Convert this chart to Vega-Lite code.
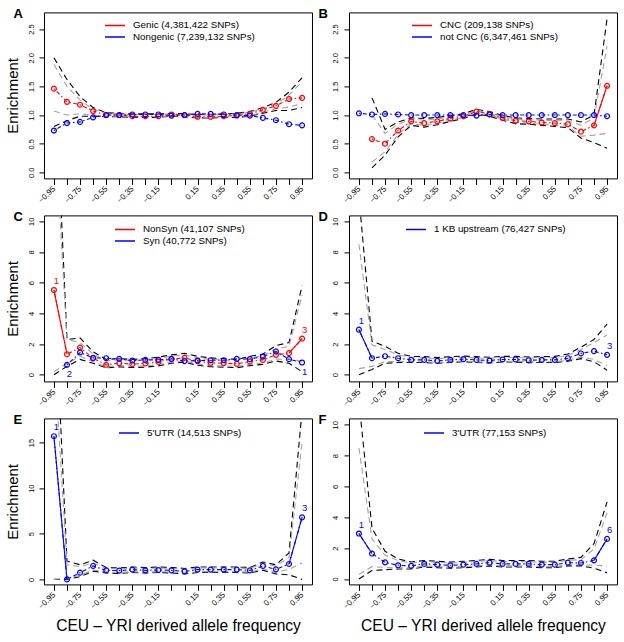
{
"$schema":"https://vega.github.io/schema/vega-lite/v6.json",
"background":"white",
"padding":{"left":5,"top":6.4,"right":3,"bottom":3},
"config":{
 "font":"Liberation Sans",
 "view":{"stroke":"black","strokeWidth":1},
 "axis":{"grid":false,"domain":false,"ticks":true,"tickColor":"black","tickWidth":1,"labelColor":"black","titleColor":"black","labelFont":"Liberation Sans","titleFont":"Liberation Sans","titleFontWeight":"normal","labelOverlap":false,"labelFlush":false,"labelBound":false,"labelFontSize":7.5},
 "axisX":{"tickSize":6,"labelPadding":3,"titleFontSize":15.6,"labelFontSize":8},
 "axisY":{"tickSize":5,"labelPadding":4,"titleFontSize":15},
 "legend":{"orient":"none","direction":"vertical","symbolType":"stroke","symbolSize":400,"symbolStrokeWidth":1.5,"labelFont":"Liberation Sans","labelFontSize":9.8,"labelColor":"black","labelOffset":7,"padding":0,"clipHeight":10,"rowPadding":1.7,"labelLimit":300},
 "title":{"font":"Liberation Sans","fontSize":13,"fontWeight":"bold","anchor":"start","frame":"group","offset":0,"dx":-30.5,"dy":12.4,"baseline":"alphabetic","color":"black"}
},
"datasets":{
"pts":[
{"p":"A","s":"Genic (4,381,422 SNPs)","x":-0.95,"y":1.46},{"p":"A","s":"Genic (4,381,422 SNPs)","x":-0.85,"y":1.23},{"p":"A","s":"Genic (4,381,422 SNPs)","x":-0.75,"y":1.18},{"p":"A","s":"Genic (4,381,422 SNPs)","x":-0.65,"y":1.07},{"p":"A","s":"Genic (4,381,422 SNPs)","x":-0.55,"y":1.0},{"p":"A","s":"Genic (4,381,422 SNPs)","x":-0.45,"y":1.0},{"p":"A","s":"Genic (4,381,422 SNPs)","x":-0.35,"y":0.98},{"p":"A","s":"Genic (4,381,422 SNPs)","x":-0.25,"y":0.98},{"p":"A","s":"Genic (4,381,422 SNPs)","x":-0.15,"y":0.98},{"p":"A","s":"Genic (4,381,422 SNPs)","x":-0.05,"y":1.01},{"p":"A","s":"Genic (4,381,422 SNPs)","x":0.05,"y":1.0},{"p":"A","s":"Genic (4,381,422 SNPs)","x":0.15,"y":0.97},{"p":"A","s":"Genic (4,381,422 SNPs)","x":0.25,"y":0.97},{"p":"A","s":"Genic (4,381,422 SNPs)","x":0.35,"y":0.98},{"p":"A","s":"Genic (4,381,422 SNPs)","x":0.45,"y":0.99},{"p":"A","s":"Genic (4,381,422 SNPs)","x":0.55,"y":1.02},{"p":"A","s":"Genic (4,381,422 SNPs)","x":0.65,"y":1.09},{"p":"A","s":"Genic (4,381,422 SNPs)","x":0.75,"y":1.16},{"p":"A","s":"Genic (4,381,422 SNPs)","x":0.85,"y":1.28},{"p":"A","s":"Genic (4,381,422 SNPs)","x":0.95,"y":1.3},
{"p":"A","s":"Nongenic (7,239,132 SNPs)","x":-0.95,"y":0.73},{"p":"A","s":"Nongenic (7,239,132 SNPs)","x":-0.85,"y":0.86},{"p":"A","s":"Nongenic (7,239,132 SNPs)","x":-0.75,"y":0.88},{"p":"A","s":"Nongenic (7,239,132 SNPs)","x":-0.65,"y":0.96},{"p":"A","s":"Nongenic (7,239,132 SNPs)","x":-0.55,"y":1.0},{"p":"A","s":"Nongenic (7,239,132 SNPs)","x":-0.45,"y":1.0},{"p":"A","s":"Nongenic (7,239,132 SNPs)","x":-0.35,"y":1.01},{"p":"A","s":"Nongenic (7,239,132 SNPs)","x":-0.25,"y":1.01},{"p":"A","s":"Nongenic (7,239,132 SNPs)","x":-0.15,"y":1.01},{"p":"A","s":"Nongenic (7,239,132 SNPs)","x":-0.05,"y":0.99},{"p":"A","s":"Nongenic (7,239,132 SNPs)","x":0.05,"y":1.0},{"p":"A","s":"Nongenic (7,239,132 SNPs)","x":0.15,"y":1.02},{"p":"A","s":"Nongenic (7,239,132 SNPs)","x":0.25,"y":1.02},{"p":"A","s":"Nongenic (7,239,132 SNPs)","x":0.35,"y":1.01},{"p":"A","s":"Nongenic (7,239,132 SNPs)","x":0.45,"y":1.0},{"p":"A","s":"Nongenic (7,239,132 SNPs)","x":0.55,"y":0.99},{"p":"A","s":"Nongenic (7,239,132 SNPs)","x":0.65,"y":0.95},{"p":"A","s":"Nongenic (7,239,132 SNPs)","x":0.75,"y":0.91},{"p":"A","s":"Nongenic (7,239,132 SNPs)","x":0.85,"y":0.84},{"p":"A","s":"Nongenic (7,239,132 SNPs)","x":0.95,"y":0.82},
{"p":"B","s":"CNC (209,138 SNPs)","x":-0.85,"y":0.58},{"p":"B","s":"CNC (209,138 SNPs)","x":-0.75,"y":0.5},{"p":"B","s":"CNC (209,138 SNPs)","x":-0.65,"y":0.73},{"p":"B","s":"CNC (209,138 SNPs)","x":-0.55,"y":0.89},{"p":"B","s":"CNC (209,138 SNPs)","x":-0.45,"y":0.86},{"p":"B","s":"CNC (209,138 SNPs)","x":-0.35,"y":0.89},{"p":"B","s":"CNC (209,138 SNPs)","x":-0.25,"y":0.94},{"p":"B","s":"CNC (209,138 SNPs)","x":-0.15,"y":0.98},{"p":"B","s":"CNC (209,138 SNPs)","x":-0.05,"y":1.06},{"p":"B","s":"CNC (209,138 SNPs)","x":0.05,"y":1.02},{"p":"B","s":"CNC (209,138 SNPs)","x":0.15,"y":0.95},{"p":"B","s":"CNC (209,138 SNPs)","x":0.25,"y":0.9},{"p":"B","s":"CNC (209,138 SNPs)","x":0.35,"y":0.89},{"p":"B","s":"CNC (209,138 SNPs)","x":0.45,"y":0.87},{"p":"B","s":"CNC (209,138 SNPs)","x":0.55,"y":0.86},{"p":"B","s":"CNC (209,138 SNPs)","x":0.65,"y":0.84},{"p":"B","s":"CNC (209,138 SNPs)","x":0.75,"y":0.71},{"p":"B","s":"CNC (209,138 SNPs)","x":0.85,"y":0.82},{"p":"B","s":"CNC (209,138 SNPs)","x":0.95,"y":1.51},
{"p":"B","s":"not CNC (6,347,461 SNPs)","x":-0.95,"y":1.03},{"p":"B","s":"not CNC (6,347,461 SNPs)","x":-0.85,"y":1.01},{"p":"B","s":"not CNC (6,347,461 SNPs)","x":-0.75,"y":1.02},{"p":"B","s":"not CNC (6,347,461 SNPs)","x":-0.65,"y":1.01},{"p":"B","s":"not CNC (6,347,461 SNPs)","x":-0.55,"y":1.0},{"p":"B","s":"not CNC (6,347,461 SNPs)","x":-0.45,"y":1.0},{"p":"B","s":"not CNC (6,347,461 SNPs)","x":-0.35,"y":1.0},{"p":"B","s":"not CNC (6,347,461 SNPs)","x":-0.25,"y":1.0},{"p":"B","s":"not CNC (6,347,461 SNPs)","x":-0.15,"y":1.0},{"p":"B","s":"not CNC (6,347,461 SNPs)","x":-0.05,"y":0.99},{"p":"B","s":"not CNC (6,347,461 SNPs)","x":0.05,"y":1.01},{"p":"B","s":"not CNC (6,347,461 SNPs)","x":0.15,"y":1.0},{"p":"B","s":"not CNC (6,347,461 SNPs)","x":0.25,"y":1.0},{"p":"B","s":"not CNC (6,347,461 SNPs)","x":0.35,"y":1.0},{"p":"B","s":"not CNC (6,347,461 SNPs)","x":0.45,"y":1.0},{"p":"B","s":"not CNC (6,347,461 SNPs)","x":0.55,"y":1.0},{"p":"B","s":"not CNC (6,347,461 SNPs)","x":0.65,"y":1.0},{"p":"B","s":"not CNC (6,347,461 SNPs)","x":0.75,"y":1.0},{"p":"B","s":"not CNC (6,347,461 SNPs)","x":0.85,"y":1.0},{"p":"B","s":"not CNC (6,347,461 SNPs)","x":0.95,"y":0.98},
{"p":"C","s":"NonSyn (41,107 SNPs)","x":-0.95,"y":5.52},{"p":"C","s":"NonSyn (41,107 SNPs)","x":-0.85,"y":1.34},{"p":"C","s":"NonSyn (41,107 SNPs)","x":-0.75,"y":1.77},{"p":"C","s":"NonSyn (41,107 SNPs)","x":-0.65,"y":1.08},{"p":"C","s":"NonSyn (41,107 SNPs)","x":-0.55,"y":0.65},{"p":"C","s":"NonSyn (41,107 SNPs)","x":-0.45,"y":0.76},{"p":"C","s":"NonSyn (41,107 SNPs)","x":-0.35,"y":0.69},{"p":"C","s":"NonSyn (41,107 SNPs)","x":-0.25,"y":0.74},{"p":"C","s":"NonSyn (41,107 SNPs)","x":-0.15,"y":0.84},{"p":"C","s":"NonSyn (41,107 SNPs)","x":-0.05,"y":1.02},{"p":"C","s":"NonSyn (41,107 SNPs)","x":0.05,"y":1.1},{"p":"C","s":"NonSyn (41,107 SNPs)","x":0.15,"y":0.89},{"p":"C","s":"NonSyn (41,107 SNPs)","x":0.25,"y":0.78},{"p":"C","s":"NonSyn (41,107 SNPs)","x":0.35,"y":0.76},{"p":"C","s":"NonSyn (41,107 SNPs)","x":0.45,"y":0.71},{"p":"C","s":"NonSyn (41,107 SNPs)","x":0.55,"y":0.87},{"p":"C","s":"NonSyn (41,107 SNPs)","x":0.65,"y":0.97},{"p":"C","s":"NonSyn (41,107 SNPs)","x":0.75,"y":1.3},{"p":"C","s":"NonSyn (41,107 SNPs)","x":0.85,"y":1.41},{"p":"C","s":"NonSyn (41,107 SNPs)","x":0.95,"y":2.36},
{"p":"C","s":"Syn (40,772 SNPs)","x":-0.85,"y":0.65},{"p":"C","s":"Syn (40,772 SNPs)","x":-0.75,"y":1.45},{"p":"C","s":"Syn (40,772 SNPs)","x":-0.65,"y":1.1},{"p":"C","s":"Syn (40,772 SNPs)","x":-0.55,"y":1.08},{"p":"C","s":"Syn (40,772 SNPs)","x":-0.45,"y":1.04},{"p":"C","s":"Syn (40,772 SNPs)","x":-0.35,"y":0.93},{"p":"C","s":"Syn (40,772 SNPs)","x":-0.25,"y":0.97},{"p":"C","s":"Syn (40,772 SNPs)","x":-0.15,"y":0.97},{"p":"C","s":"Syn (40,772 SNPs)","x":-0.05,"y":1.04},{"p":"C","s":"Syn (40,772 SNPs)","x":0.05,"y":0.89},{"p":"C","s":"Syn (40,772 SNPs)","x":0.15,"y":0.93},{"p":"C","s":"Syn (40,772 SNPs)","x":0.25,"y":0.95},{"p":"C","s":"Syn (40,772 SNPs)","x":0.35,"y":0.95},{"p":"C","s":"Syn (40,772 SNPs)","x":0.45,"y":1.04},{"p":"C","s":"Syn (40,772 SNPs)","x":0.55,"y":1.02},{"p":"C","s":"Syn (40,772 SNPs)","x":0.65,"y":1.19},{"p":"C","s":"Syn (40,772 SNPs)","x":0.75,"y":1.52},{"p":"C","s":"Syn (40,772 SNPs)","x":0.85,"y":1.02},{"p":"C","s":"Syn (40,772 SNPs)","x":0.95,"y":0.8},
{"p":"D","s":"1 KB upstream (76,427 SNPs)","x":-0.95,"y":2.94},{"p":"D","s":"1 KB upstream (76,427 SNPs)","x":-0.85,"y":1.08},{"p":"D","s":"1 KB upstream (76,427 SNPs)","x":-0.75,"y":1.21},{"p":"D","s":"1 KB upstream (76,427 SNPs)","x":-0.65,"y":1.08},{"p":"D","s":"1 KB upstream (76,427 SNPs)","x":-0.55,"y":0.97},{"p":"D","s":"1 KB upstream (76,427 SNPs)","x":-0.45,"y":0.97},{"p":"D","s":"1 KB upstream (76,427 SNPs)","x":-0.35,"y":0.91},{"p":"D","s":"1 KB upstream (76,427 SNPs)","x":-0.25,"y":0.97},{"p":"D","s":"1 KB upstream (76,427 SNPs)","x":-0.15,"y":1.02},{"p":"D","s":"1 KB upstream (76,427 SNPs)","x":-0.05,"y":0.97},{"p":"D","s":"1 KB upstream (76,427 SNPs)","x":0.05,"y":0.93},{"p":"D","s":"1 KB upstream (76,427 SNPs)","x":0.15,"y":1.0},{"p":"D","s":"1 KB upstream (76,427 SNPs)","x":0.25,"y":1.0},{"p":"D","s":"1 KB upstream (76,427 SNPs)","x":0.35,"y":0.95},{"p":"D","s":"1 KB upstream (76,427 SNPs)","x":0.45,"y":0.97},{"p":"D","s":"1 KB upstream (76,427 SNPs)","x":0.55,"y":0.97},{"p":"D","s":"1 KB upstream (76,427 SNPs)","x":0.65,"y":1.08},{"p":"D","s":"1 KB upstream (76,427 SNPs)","x":0.75,"y":1.39},{"p":"D","s":"1 KB upstream (76,427 SNPs)","x":0.85,"y":1.54},{"p":"D","s":"1 KB upstream (76,427 SNPs)","x":0.95,"y":1.3},
{"p":"E","s":"5'UTR (14,513 SNPs)","x":-0.95,"y":15.7},{"p":"E","s":"5'UTR (14,513 SNPs)","x":-0.85,"y":0.0},{"p":"E","s":"5'UTR (14,513 SNPs)","x":-0.75,"y":0.74},{"p":"E","s":"5'UTR (14,513 SNPs)","x":-0.65,"y":1.47},{"p":"E","s":"5'UTR (14,513 SNPs)","x":-0.55,"y":0.99},{"p":"E","s":"5'UTR (14,513 SNPs)","x":-0.45,"y":0.96},{"p":"E","s":"5'UTR (14,513 SNPs)","x":-0.35,"y":1.07},{"p":"E","s":"5'UTR (14,513 SNPs)","x":-0.25,"y":0.99},{"p":"E","s":"5'UTR (14,513 SNPs)","x":-0.15,"y":1.03},{"p":"E","s":"5'UTR (14,513 SNPs)","x":-0.05,"y":0.99},{"p":"E","s":"5'UTR (14,513 SNPs)","x":0.05,"y":0.88},{"p":"E","s":"5'UTR (14,513 SNPs)","x":0.15,"y":1.07},{"p":"E","s":"5'UTR (14,513 SNPs)","x":0.25,"y":1.07},{"p":"E","s":"5'UTR (14,513 SNPs)","x":0.35,"y":1.07},{"p":"E","s":"5'UTR (14,513 SNPs)","x":0.45,"y":1.07},{"p":"E","s":"5'UTR (14,513 SNPs)","x":0.55,"y":0.99},{"p":"E","s":"5'UTR (14,513 SNPs)","x":0.65,"y":1.47},{"p":"E","s":"5'UTR (14,513 SNPs)","x":0.75,"y":1.1},{"p":"E","s":"5'UTR (14,513 SNPs)","x":0.85,"y":1.69},{"p":"E","s":"5'UTR (14,513 SNPs)","x":0.95,"y":6.8},
{"p":"F","s":"3'UTR (77,153 SNPs)","x":-0.95,"y":2.95},{"p":"F","s":"3'UTR (77,153 SNPs)","x":-0.85,"y":1.65},{"p":"F","s":"3'UTR (77,153 SNPs)","x":-0.75,"y":1.08},{"p":"F","s":"3'UTR (77,153 SNPs)","x":-0.65,"y":0.89},{"p":"F","s":"3'UTR (77,153 SNPs)","x":-0.55,"y":0.85},{"p":"F","s":"3'UTR (77,153 SNPs)","x":-0.45,"y":0.98},{"p":"F","s":"3'UTR (77,153 SNPs)","x":-0.35,"y":0.93},{"p":"F","s":"3'UTR (77,153 SNPs)","x":-0.25,"y":0.89},{"p":"F","s":"3'UTR (77,153 SNPs)","x":-0.15,"y":0.93},{"p":"F","s":"3'UTR (77,153 SNPs)","x":-0.05,"y":0.98},{"p":"F","s":"3'UTR (77,153 SNPs)","x":0.05,"y":1.06},{"p":"F","s":"3'UTR (77,153 SNPs)","x":0.15,"y":0.98},{"p":"F","s":"3'UTR (77,153 SNPs)","x":0.25,"y":0.98},{"p":"F","s":"3'UTR (77,153 SNPs)","x":0.35,"y":0.98},{"p":"F","s":"3'UTR (77,153 SNPs)","x":0.45,"y":0.93},{"p":"F","s":"3'UTR (77,153 SNPs)","x":0.55,"y":0.93},{"p":"F","s":"3'UTR (77,153 SNPs)","x":0.65,"y":1.06},{"p":"F","s":"3'UTR (77,153 SNPs)","x":0.75,"y":1.04},{"p":"F","s":"3'UTR (77,153 SNPs)","x":0.85,"y":1.21},{"p":"F","s":"3'UTR (77,153 SNPs)","x":0.95,"y":2.6}
],
"env":[
{"p":"A","x":-0.95,"bu":2.0,"bl":0.8,"gu":1.88,"gl":1.07},{"p":"A","x":-0.85,"bu":1.62,"bl":0.9,"gu":1.5,"gl":1.0},{"p":"A","x":-0.75,"bu":1.32,"bl":0.98,"gu":1.26,"gl":1.02},{"p":"A","x":-0.65,"bu":1.13,"bl":0.98,"gu":1.1,"gl":1.0},{"p":"A","x":-0.55,"bu":1.04,"bl":0.97,"gu":1.03,"gl":0.98},{"p":"A","x":-0.45,"bu":1.03,"bl":0.97,"gu":1.02,"gl":0.98},{"p":"A","x":-0.35,"bu":1.02,"bl":0.96,"gu":1.01,"gl":0.97},{"p":"A","x":-0.25,"bu":1.02,"bl":0.96,"gu":1.01,"gl":0.97},{"p":"A","x":-0.15,"bu":1.02,"bl":0.96,"gu":1.01,"gl":0.97},{"p":"A","x":-0.05,"bu":1.03,"bl":0.98,"gu":1.02,"gl":0.99},{"p":"A","x":0.05,"bu":1.02,"bl":0.97,"gu":1.01,"gl":0.98},{"p":"A","x":0.15,"bu":1.01,"bl":0.95,"gu":1.0,"gl":0.96},{"p":"A","x":0.25,"bu":1.01,"bl":0.95,"gu":1.0,"gl":0.96},{"p":"A","x":0.35,"bu":1.02,"bl":0.96,"gu":1.01,"gl":0.97},{"p":"A","x":0.45,"bu":1.03,"bl":0.96,"gu":1.02,"gl":0.97},{"p":"A","x":0.55,"bu":1.06,"bl":0.98,"gu":1.05,"gl":0.99},{"p":"A","x":0.65,"bu":1.13,"bl":1.03,"gu":1.11,"gl":1.05},{"p":"A","x":0.75,"bu":1.22,"bl":1.08,"gu":1.19,"gl":1.11},{"p":"A","x":0.85,"bu":1.4,"bl":1.08,"gu":1.35,"gl":1.14},{"p":"A","x":0.95,"bu":1.65,"bl":1.13,"gu":1.58,"gl":1.2},
{"p":"B","x":-0.85,"bu":1.3,"bl":0.08,"gu":1.0,"gl":0.18},{"p":"B","x":-0.75,"bu":0.75,"bl":0.3,"gu":0.68,"gl":0.36},{"p":"B","x":-0.65,"bu":0.88,"bl":0.62,"gu":0.84,"gl":0.66},{"p":"B","x":-0.55,"bu":0.95,"bl":0.82,"gu":0.93,"gl":0.85},{"p":"B","x":-0.45,"bu":0.94,"bl":0.79,"gu":0.91,"gl":0.82},{"p":"B","x":-0.35,"bu":0.96,"bl":0.83,"gu":0.93,"gl":0.86},{"p":"B","x":-0.25,"bu":0.99,"bl":0.89,"gu":0.97,"gl":0.91},{"p":"B","x":-0.15,"bu":1.02,"bl":0.94,"gu":1.0,"gl":0.96},{"p":"B","x":-0.05,"bu":1.1,"bl":1.02,"gu":1.08,"gl":1.04},{"p":"B","x":0.05,"bu":1.06,"bl":0.98,"gu":1.04,"gl":1.0},{"p":"B","x":0.15,"bu":0.99,"bl":0.91,"gu":0.97,"gl":0.93},{"p":"B","x":0.25,"bu":0.95,"bl":0.85,"gu":0.93,"gl":0.87},{"p":"B","x":0.35,"bu":0.94,"bl":0.84,"gu":0.92,"gl":0.86},{"p":"B","x":0.45,"bu":0.93,"bl":0.82,"gu":0.91,"gl":0.84},{"p":"B","x":0.55,"bu":0.93,"bl":0.8,"gu":0.9,"gl":0.82},{"p":"B","x":0.65,"bu":0.93,"bl":0.78,"gu":0.9,"gl":0.8},{"p":"B","x":0.75,"bu":0.88,"bl":0.6,"gu":0.82,"gl":0.63},{"p":"B","x":0.85,"bu":1.0,"bl":0.52,"gu":0.95,"gl":0.65},{"p":"B","x":0.95,"bu":2.68,"bl":0.42,"gu":2.2,"gl":0.68},
{"p":"C","x":-0.95,"bu":21,"bl":0,"gu":17,"gl":0.2},{"p":"C","x":-0.85,"bu":2.3,"bl":0.55,"gu":2.3,"gl":0.75},{"p":"C","x":-0.75,"bu":2.4,"bl":1.0,"gu":2.1,"gl":1.2},{"p":"C","x":-0.65,"bu":1.5,"bl":0.75,"gu":1.35,"gl":0.85},{"p":"C","x":-0.55,"bu":1.0,"bl":0.45,"gu":0.9,"gl":0.52},{"p":"C","x":-0.45,"bu":1.05,"bl":0.52,"gu":0.97,"gl":0.6},{"p":"C","x":-0.35,"bu":1.0,"bl":0.47,"gu":0.92,"gl":0.55},{"p":"C","x":-0.25,"bu":1.05,"bl":0.5,"gu":0.97,"gl":0.58},{"p":"C","x":-0.15,"bu":1.15,"bl":0.58,"gu":1.07,"gl":0.67},{"p":"C","x":-0.05,"bu":1.3,"bl":0.75,"gu":1.22,"gl":0.83},{"p":"C","x":0.05,"bu":1.4,"bl":0.82,"gu":1.3,"gl":0.9},{"p":"C","x":0.15,"bu":1.2,"bl":0.62,"gu":1.1,"gl":0.7},{"p":"C","x":0.25,"bu":1.1,"bl":0.52,"gu":1.0,"gl":0.6},{"p":"C","x":0.35,"bu":1.05,"bl":0.5,"gu":0.97,"gl":0.58},{"p":"C","x":0.45,"bu":1.0,"bl":0.46,"gu":0.93,"gl":0.54},{"p":"C","x":0.55,"bu":1.2,"bl":0.6,"gu":1.1,"gl":0.68},{"p":"C","x":0.65,"bu":1.35,"bl":0.68,"gu":1.25,"gl":0.77},{"p":"C","x":0.75,"bu":1.9,"bl":0.9,"gu":1.7,"gl":1.02},{"p":"C","x":0.85,"bu":2.1,"bl":0.75,"gu":1.85,"gl":1.0},{"p":"C","x":0.95,"bu":5.8,"bl":0.2,"gu":5.2,"gl":0.9},
{"p":"D","x":-0.95,"bu":11.6,"bl":0,"gu":8.5,"gl":0.4},{"p":"D","x":-0.85,"bu":2.2,"bl":0.35,"gu":1.95,"gl":0.55},{"p":"D","x":-0.75,"bu":1.85,"bl":0.75,"gu":1.65,"gl":0.85},{"p":"D","x":-0.65,"bu":1.4,"bl":0.8,"gu":1.3,"gl":0.88},{"p":"D","x":-0.55,"bu":1.2,"bl":0.8,"gu":1.12,"gl":0.85},{"p":"D","x":-0.45,"bu":1.18,"bl":0.8,"gu":1.1,"gl":0.85},{"p":"D","x":-0.35,"bu":1.12,"bl":0.75,"gu":1.05,"gl":0.8},{"p":"D","x":-0.25,"bu":1.18,"bl":0.8,"gu":1.1,"gl":0.85},{"p":"D","x":-0.15,"bu":1.22,"bl":0.85,"gu":1.15,"gl":0.9},{"p":"D","x":-0.05,"bu":1.18,"bl":0.8,"gu":1.1,"gl":0.85},{"p":"D","x":0.05,"bu":1.14,"bl":0.77,"gu":1.07,"gl":0.82},{"p":"D","x":0.15,"bu":1.2,"bl":0.83,"gu":1.13,"gl":0.88},{"p":"D","x":0.25,"bu":1.2,"bl":0.83,"gu":1.13,"gl":0.88},{"p":"D","x":0.35,"bu":1.16,"bl":0.79,"gu":1.09,"gl":0.84},{"p":"D","x":0.45,"bu":1.18,"bl":0.8,"gu":1.1,"gl":0.85},{"p":"D","x":0.55,"bu":1.2,"bl":0.8,"gu":1.12,"gl":0.85},{"p":"D","x":0.65,"bu":1.35,"bl":0.88,"gu":1.27,"gl":0.95},{"p":"D","x":0.75,"bu":1.8,"bl":1.05,"gu":1.65,"gl":1.15},{"p":"D","x":0.85,"bu":2.3,"bl":0.85,"gu":2.1,"gl":1.0},{"p":"D","x":0.95,"bu":3.3,"bl":0.3,"gu":2.6,"gl":0.6},
{"p":"E","x":-0.95,"bu":33,"bl":0,"gu":25,"gl":0},{"p":"E","x":-0.85,"bu":2.0,"bl":0,"gu":1.6,"gl":0.1},{"p":"E","x":-0.75,"bu":1.6,"bl":0.3,"gu":1.4,"gl":0.45},{"p":"E","x":-0.65,"bu":2.1,"bl":0.9,"gu":1.8,"gl":1.05},{"p":"E","x":-0.55,"bu":1.3,"bl":0.7,"gu":1.2,"gl":0.8},{"p":"E","x":-0.45,"bu":1.25,"bl":0.65,"gu":1.15,"gl":0.75},{"p":"E","x":-0.35,"bu":1.35,"bl":0.75,"gu":1.25,"gl":0.85},{"p":"E","x":-0.25,"bu":1.3,"bl":0.7,"gu":1.2,"gl":0.8},{"p":"E","x":-0.15,"bu":1.35,"bl":0.75,"gu":1.25,"gl":0.85},{"p":"E","x":-0.05,"bu":1.3,"bl":0.7,"gu":1.2,"gl":0.8},{"p":"E","x":0.05,"bu":1.2,"bl":0.6,"gu":1.1,"gl":0.7},{"p":"E","x":0.15,"bu":1.35,"bl":0.75,"gu":1.25,"gl":0.85},{"p":"E","x":0.25,"bu":1.35,"bl":0.75,"gu":1.25,"gl":0.85},{"p":"E","x":0.35,"bu":1.35,"bl":0.75,"gu":1.25,"gl":0.85},{"p":"E","x":0.45,"bu":1.35,"bl":0.75,"gu":1.25,"gl":0.85},{"p":"E","x":0.55,"bu":1.3,"bl":0.7,"gu":1.2,"gl":0.8},{"p":"E","x":0.65,"bu":1.9,"bl":1.0,"gu":1.75,"gl":1.15},{"p":"E","x":0.75,"bu":1.6,"bl":0.6,"gu":1.45,"gl":0.8},{"p":"E","x":0.85,"bu":2.9,"bl":0.5,"gu":2.4,"gl":1.1},{"p":"E","x":0.95,"bu":18.5,"bl":0,"gu":15,"gl":1.8},
{"p":"F","x":-0.95,"bu":11.5,"bl":0,"gu":8.5,"gl":0.3},{"p":"F","x":-0.85,"bu":3.3,"bl":0.55,"gu":2.6,"gl":0.8},{"p":"F","x":-0.75,"bu":1.8,"bl":0.6,"gu":1.55,"gl":0.75},{"p":"F","x":-0.65,"bu":1.3,"bl":0.65,"gu":1.2,"gl":0.72},{"p":"F","x":-0.55,"bu":1.1,"bl":0.65,"gu":1.03,"gl":0.72},{"p":"F","x":-0.45,"bu":1.2,"bl":0.78,"gu":1.13,"gl":0.85},{"p":"F","x":-0.35,"bu":1.15,"bl":0.73,"gu":1.08,"gl":0.8},{"p":"F","x":-0.25,"bu":1.1,"bl":0.7,"gu":1.04,"gl":0.77},{"p":"F","x":-0.15,"bu":1.15,"bl":0.73,"gu":1.08,"gl":0.8},{"p":"F","x":-0.05,"bu":1.2,"bl":0.78,"gu":1.13,"gl":0.85},{"p":"F","x":0.05,"bu":1.28,"bl":0.85,"gu":1.2,"gl":0.92},{"p":"F","x":0.15,"bu":1.2,"bl":0.78,"gu":1.13,"gl":0.85},{"p":"F","x":0.25,"bu":1.2,"bl":0.78,"gu":1.13,"gl":0.85},{"p":"F","x":0.35,"bu":1.2,"bl":0.78,"gu":1.13,"gl":0.85},{"p":"F","x":0.45,"bu":1.15,"bl":0.73,"gu":1.08,"gl":0.8},{"p":"F","x":0.55,"bu":1.15,"bl":0.73,"gu":1.08,"gl":0.8},{"p":"F","x":0.65,"bu":1.3,"bl":0.85,"gu":1.22,"gl":0.92},{"p":"F","x":0.75,"bu":1.4,"bl":0.85,"gu":1.25,"gl":0.92},{"p":"F","x":0.85,"bu":2.3,"bl":0.7,"gu":1.95,"gl":0.9},{"p":"F","x":0.95,"bu":5.0,"bl":0.4,"gu":4.3,"gl":0.85}
],
"solid":[
{"p":"B","s":"CNC (209,138 SNPs)","g":1,"x":0.85,"y":0.82},{"p":"B","s":"CNC (209,138 SNPs)","g":1,"x":0.95,"y":1.51},
{"p":"C","s":"NonSyn (41,107 SNPs)","g":1,"x":-0.95,"y":5.52},{"p":"C","s":"NonSyn (41,107 SNPs)","g":1,"x":-0.85,"y":1.34},{"p":"C","s":"NonSyn (41,107 SNPs)","g":2,"x":0.85,"y":1.41},{"p":"C","s":"NonSyn (41,107 SNPs)","g":2,"x":0.95,"y":2.36},
{"p":"D","s":"1 KB upstream (76,427 SNPs)","g":1,"x":-0.95,"y":2.94},{"p":"D","s":"1 KB upstream (76,427 SNPs)","g":1,"x":-0.85,"y":1.08},
{"p":"E","s":"5'UTR (14,513 SNPs)","g":1,"x":-0.95,"y":15.7},{"p":"E","s":"5'UTR (14,513 SNPs)","g":1,"x":-0.85,"y":0.0},{"p":"E","s":"5'UTR (14,513 SNPs)","g":2,"x":0.85,"y":1.69},{"p":"E","s":"5'UTR (14,513 SNPs)","g":2,"x":0.95,"y":6.8},
{"p":"F","s":"3'UTR (77,153 SNPs)","g":1,"x":-0.95,"y":2.95},{"p":"F","s":"3'UTR (77,153 SNPs)","g":1,"x":-0.85,"y":1.65},{"p":"F","s":"3'UTR (77,153 SNPs)","g":2,"x":0.85,"y":1.21},{"p":"F","s":"3'UTR (77,153 SNPs)","g":2,"x":0.95,"y":2.6}
],
"lab":[
{"p":"C","s":"NonSyn (41,107 SNPs)","x":-0.95,"y":5.52,"t":"1"},{"p":"C","s":"NonSyn (41,107 SNPs)","x":0.95,"y":2.36,"t":"3"},
{"p":"C","s":"Syn (40,772 SNPs)","x":-0.85,"y":0.65,"t":"2"},{"p":"C","s":"Syn (40,772 SNPs)","x":0.95,"y":0.8,"t":"1"},
{"p":"D","s":"1 KB upstream (76,427 SNPs)","x":-0.95,"y":2.94,"t":"1"},{"p":"D","s":"1 KB upstream (76,427 SNPs)","x":0.95,"y":1.3,"t":"3"},
{"p":"E","s":"5'UTR (14,513 SNPs)","x":-0.95,"y":15.7,"t":"1"},{"p":"E","s":"5'UTR (14,513 SNPs)","x":0.95,"y":6.8,"t":"3"},
{"p":"F","s":"3'UTR (77,153 SNPs)","x":-0.95,"y":2.95,"t":"1"},{"p":"F","s":"3'UTR (77,153 SNPs)","x":0.95,"y":2.6,"t":"6"}
]
},
"columns":2,
"spacing":37,
"bounds":"flush",
"resolve":{"scale":{"x":"independent","y":"independent","color":"independent"},"axis":{"x":"independent","y":"independent"},"legend":{"color":"independent"}},
"concat":[
{"width":268,"height":166,"title":{"text":"A"},
 "encoding":{"x":{"field":"x","type":"quantitative","scale":{"domain":[-1.026,1.026],"nice":false,"zero":false},"axis":{"values":[-0.95,-0.85,-0.75,-0.65,-0.55,-0.45,-0.35,-0.25,-0.15,-0.05,0.05,0.15,0.25,0.35,0.45,0.55,0.65,0.75,0.85,0.95],"labelExpr":"indexof([-95,-75,-55,-35,-15,15,35,55,75,95], round(datum.value*100)) >= 0 ? replace(format(datum.value, '.2f'), '-', '\u2212') : ''","labelAngle":-45,"labelAlign":"right","labelBaseline":"middle","title":null}},
   "y":{"field":"y","type":"quantitative","scale":{"domain":[-0.105,2.79],"nice":false,"zero":false},"axis":{"values":[0,0.5,1,1.5,2,2.5],"format":".1f","labelAngle":-90,"labelAlign":"center","labelBaseline":"bottom","title":"Enrichment","titleX":-31.5,"titleY":83,"titleAngle":-90,"titleAlign":"center","titleBaseline":"middle"}}},
 "layer":[
 {"data":{"name":"env"},"transform":[{"filter":"datum.p=='A'"},{"fold":["bu","bl"],"as":["e","y"]}],"mark":{"type":"line","clip":true,"color":"black","strokeWidth":1.1,"strokeDash":[6,4]},"encoding":{"detail":{"field":"e"}}},
 {"data":{"name":"env"},"transform":[{"filter":"datum.p=='A'"},{"fold":["gu","gl"],"as":["e","y"]}],"mark":{"type":"line","clip":true,"color":"#a3a3a3","strokeWidth":1.1,"strokeDash":[6,4]},"encoding":{"detail":{"field":"e"}}},
 {"data":{"values":[{}]},"mark":{"type":"rule","color":"#bdbdbd","strokeWidth":1.8},"encoding":{"x":{"datum":-1.026,"type":"quantitative"},"x2":{"datum":1.026},"y":{"datum":1,"type":"quantitative"}}},
 {"data":{"name":"pts"},"transform":[{"filter":"datum.p=='A'"}],"mark":{"type":"line","strokeWidth":1.1,"strokeDash":[1.5,2.5,4,2.5]},
  "encoding":{"color":{"field":"s","type":"nominal","scale":{"domain":["Genic (4,381,422 SNPs)","Nongenic (7,239,132 SNPs)"],"range":["red","blue"]},"legend":{"title":null,"orient":"none","legendX":60,"legendY":8,"encode":{"symbols":{"update":{"strokeDash":{"value":[1,0]}}}}}}}},
 {"data":{"name":"pts"},"transform":[{"filter":"datum.p=='A'"}],"mark":{"type":"point","shape":"circle","filled":false,"size":24,"strokeWidth":1.2,"opacity":1},
  "encoding":{"color":{"field":"s","type":"nominal","scale":{"domain":["Genic (4,381,422 SNPs)","Nongenic (7,239,132 SNPs)"],"range":["red","blue"]},"legend":null}}}
]},
{"width":268,"height":166,"title":{"text":"B"},
 "encoding":{"x":{"field":"x","type":"quantitative","scale":{"domain":[-1.026,1.026],"nice":false,"zero":false},"axis":{"values":[-0.95,-0.85,-0.75,-0.65,-0.55,-0.45,-0.35,-0.25,-0.15,-0.05,0.05,0.15,0.25,0.35,0.45,0.55,0.65,0.75,0.85,0.95],"labelExpr":"indexof([-95,-75,-55,-35,-15,15,35,55,75,95], round(datum.value*100)) >= 0 ? replace(format(datum.value, '.2f'), '-', '\u2212') : ''","labelAngle":-45,"labelAlign":"right","labelBaseline":"middle","title":null}},
   "y":{"field":"y","type":"quantitative","scale":{"domain":[-0.105,2.79],"nice":false,"zero":false},"axis":{"values":[0,0.5,1,1.5,2,2.5],"format":".1f","labelAngle":-90,"labelAlign":"center","labelBaseline":"bottom","title":null}}},
 "layer":[
 {"data":{"name":"env"},"transform":[{"filter":"datum.p=='B'"},{"fold":["bu","bl"],"as":["e","y"]}],"mark":{"type":"line","clip":true,"color":"black","strokeWidth":1.1,"strokeDash":[6,4]},"encoding":{"detail":{"field":"e"}}},
 {"data":{"name":"env"},"transform":[{"filter":"datum.p=='B'"},{"fold":["gu","gl"],"as":["e","y"]}],"mark":{"type":"line","clip":true,"color":"#a3a3a3","strokeWidth":1.1,"strokeDash":[6,4]},"encoding":{"detail":{"field":"e"}}},
 {"data":{"values":[{}]},"mark":{"type":"rule","color":"#bdbdbd","strokeWidth":1.8},"encoding":{"x":{"datum":-1.026,"type":"quantitative"},"x2":{"datum":1.026},"y":{"datum":1,"type":"quantitative"}}},
 {"data":{"name":"pts"},"transform":[{"filter":"datum.p=='B'"}],"mark":{"type":"line","strokeWidth":1.1,"strokeDash":[1.5,2.5,4,2.5]},
  "encoding":{"color":{"field":"s","type":"nominal","scale":{"domain":["CNC (209,138 SNPs)","not CNC (6,347,461 SNPs)"],"range":["red","blue"]},"legend":{"title":null,"orient":"none","legendX":62,"legendY":8,"encode":{"symbols":{"update":{"strokeDash":{"value":[1,0]}}}}}}}},
 {"data":{"name":"solid"},"transform":[{"filter":"datum.p=='B'"}],"mark":{"type":"line","strokeWidth":1.1},
  "encoding":{"detail":{"field":"g"},"color":{"field":"s","type":"nominal","scale":{"domain":["CNC (209,138 SNPs)","not CNC (6,347,461 SNPs)"],"range":["red","blue"]},"legend":null}}},
 {"data":{"name":"pts"},"transform":[{"filter":"datum.p=='B'"}],"mark":{"type":"point","shape":"circle","filled":false,"size":24,"strokeWidth":1.2,"opacity":1},
  "encoding":{"color":{"field":"s","type":"nominal","scale":{"domain":["CNC (209,138 SNPs)","not CNC (6,347,461 SNPs)"],"range":["red","blue"]},"legend":null}}}
]},
{"width":268,"height":166,"title":{"text":"C"},
 "encoding":{"x":{"field":"x","type":"quantitative","scale":{"domain":[-1.026,1.026],"nice":false,"zero":false},"axis":{"values":[-0.95,-0.85,-0.75,-0.65,-0.55,-0.45,-0.35,-0.25,-0.15,-0.05,0.05,0.15,0.25,0.35,0.45,0.55,0.65,0.75,0.85,0.95],"labelExpr":"indexof([-95,-75,-55,-35,-15,15,35,55,75,95], round(datum.value*100)) >= 0 ? replace(format(datum.value, '.2f'), '-', '\u2212') : ''","labelAngle":-45,"labelAlign":"right","labelBaseline":"middle","title":null}},
   "y":{"field":"y","type":"quantitative","scale":{"domain":[-0.43,10.38],"nice":false,"zero":false},"axis":{"values":[0,2,4,6,8,10],"labelAngle":-90,"labelAlign":"center","labelBaseline":"bottom","title":"Enrichment","titleX":-31.5,"titleY":83,"titleAngle":-90,"titleAlign":"center","titleBaseline":"middle"}}},
 "layer":[
 {"data":{"name":"env"},"transform":[{"filter":"datum.p=='C'"},{"fold":["bu","bl"],"as":["e","y"]}],"mark":{"type":"line","clip":true,"color":"black","strokeWidth":1.1,"strokeDash":[6,4]},"encoding":{"detail":{"field":"e"}}},
 {"data":{"name":"env"},"transform":[{"filter":"datum.p=='C'"},{"fold":["gu","gl"],"as":["e","y"]}],"mark":{"type":"line","clip":true,"color":"#a3a3a3","strokeWidth":1.1,"strokeDash":[6,4]},"encoding":{"detail":{"field":"e"}}},
 {"data":{"values":[{}]},"mark":{"type":"rule","color":"#bdbdbd","strokeWidth":1.8},"encoding":{"x":{"datum":-1.026,"type":"quantitative"},"x2":{"datum":1.026},"y":{"datum":1,"type":"quantitative"}}},
 {"data":{"name":"pts"},"transform":[{"filter":"datum.p=='C'"}],"mark":{"type":"line","strokeWidth":1.1,"strokeDash":[1.5,2.5,4,2.5]},
  "encoding":{"color":{"field":"s","type":"nominal","scale":{"domain":["NonSyn (41,107 SNPs)","Syn (40,772 SNPs)"],"range":["red","blue"]},"legend":{"title":null,"orient":"none","legendX":70,"legendY":9,"encode":{"symbols":{"update":{"strokeDash":{"value":[1,0]}}}}}}}},
 {"data":{"name":"solid"},"transform":[{"filter":"datum.p=='C'"}],"mark":{"type":"line","strokeWidth":1.1},
  "encoding":{"detail":{"field":"g"},"color":{"field":"s","type":"nominal","scale":{"domain":["NonSyn (41,107 SNPs)","Syn (40,772 SNPs)"],"range":["red","blue"]},"legend":null}}},
 {"data":{"name":"pts"},"transform":[{"filter":"datum.p=='C'"}],"mark":{"type":"point","shape":"circle","filled":false,"size":24,"strokeWidth":1.2,"opacity":1},
  "encoding":{"color":{"field":"s","type":"nominal","scale":{"domain":["NonSyn (41,107 SNPs)","Syn (40,772 SNPs)"],"range":["red","blue"]},"legend":null}}},
 {"data":{"name":"lab"},"transform":[{"filter":"datum.p=='C' && datum.s=='NonSyn (41,107 SNPs)'"}],"mark":{"type":"text","dx":2.5,"dy":-9,"fontSize":9.5},
  "encoding":{"text":{"field":"t"},"color":{"field":"s","type":"nominal","scale":{"domain":["NonSyn (41,107 SNPs)","Syn (40,772 SNPs)"],"range":["red","blue"]},"legend":null}}},
 {"data":{"name":"lab"},"transform":[{"filter":"datum.p=='C' && datum.s=='Syn (40,772 SNPs)'"}],"mark":{"type":"text","dx":2.5,"dy":9,"fontSize":9.5},
  "encoding":{"text":{"field":"t"},"color":{"field":"s","type":"nominal","scale":{"domain":["NonSyn (41,107 SNPs)","Syn (40,772 SNPs)"],"range":["red","blue"]},"legend":null}}}
]},
{"width":268,"height":166,"title":{"text":"D"},
 "encoding":{"x":{"field":"x","type":"quantitative","scale":{"domain":[-1.026,1.026],"nice":false,"zero":false},"axis":{"values":[-0.95,-0.85,-0.75,-0.65,-0.55,-0.45,-0.35,-0.25,-0.15,-0.05,0.05,0.15,0.25,0.35,0.45,0.55,0.65,0.75,0.85,0.95],"labelExpr":"indexof([-95,-75,-55,-35,-15,15,35,55,75,95], round(datum.value*100)) >= 0 ? replace(format(datum.value, '.2f'), '-', '\u2212') : ''","labelAngle":-45,"labelAlign":"right","labelBaseline":"middle","title":null}},
   "y":{"field":"y","type":"quantitative","scale":{"domain":[-0.43,10.38],"nice":false,"zero":false},"axis":{"values":[0,2,4,6,8,10],"labelAngle":-90,"labelAlign":"center","labelBaseline":"bottom","title":null}}},
 "layer":[
 {"data":{"name":"env"},"transform":[{"filter":"datum.p=='D'"},{"fold":["bu","bl"],"as":["e","y"]}],"mark":{"type":"line","clip":true,"color":"black","strokeWidth":1.1,"strokeDash":[6,4]},"encoding":{"detail":{"field":"e"}}},
 {"data":{"name":"env"},"transform":[{"filter":"datum.p=='D'"},{"fold":["gu","gl"],"as":["e","y"]}],"mark":{"type":"line","clip":true,"color":"#a3a3a3","strokeWidth":1.1,"strokeDash":[6,4]},"encoding":{"detail":{"field":"e"}}},
 {"data":{"values":[{}]},"mark":{"type":"rule","color":"#bdbdbd","strokeWidth":1.8},"encoding":{"x":{"datum":-1.026,"type":"quantitative"},"x2":{"datum":1.026},"y":{"datum":1,"type":"quantitative"}}},
 {"data":{"name":"pts"},"transform":[{"filter":"datum.p=='D'"}],"mark":{"type":"line","strokeWidth":1.1,"strokeDash":[1.5,2.5,4,2.5]},
  "encoding":{"color":{"field":"s","type":"nominal","scale":{"domain":["1 KB upstream (76,427 SNPs)"],"range":["blue"]},"legend":{"title":null,"orient":"none","legendX":56,"legendY":9,"encode":{"symbols":{"update":{"strokeDash":{"value":[1,0]}}}}}}}},
 {"data":{"name":"solid"},"transform":[{"filter":"datum.p=='D'"}],"mark":{"type":"line","strokeWidth":1.1},
  "encoding":{"detail":{"field":"g"},"color":{"field":"s","type":"nominal","scale":{"domain":["1 KB upstream (76,427 SNPs)"],"range":["blue"]},"legend":null}}},
 {"data":{"name":"pts"},"transform":[{"filter":"datum.p=='D'"}],"mark":{"type":"point","shape":"circle","filled":false,"size":24,"strokeWidth":1.2,"opacity":1},
  "encoding":{"color":{"field":"s","type":"nominal","scale":{"domain":["1 KB upstream (76,427 SNPs)"],"range":["blue"]},"legend":null}}},
 {"data":{"name":"lab"},"transform":[{"filter":"datum.p=='D'"}],"mark":{"type":"text","dx":2.5,"dy":-9,"fontSize":9.5},
  "encoding":{"text":{"field":"t"},"color":{"field":"s","type":"nominal","scale":{"domain":["1 KB upstream (76,427 SNPs)"],"range":["blue"]},"legend":null}}}
]},
{"width":268,"height":166,"title":{"text":"E"},
 "encoding":{"x":{"field":"x","type":"quantitative","scale":{"domain":[-1.026,1.026],"nice":false,"zero":false},"axis":{"values":[-0.95,-0.85,-0.75,-0.65,-0.55,-0.45,-0.35,-0.25,-0.15,-0.05,0.05,0.15,0.25,0.35,0.45,0.55,0.65,0.75,0.85,0.95],"labelExpr":"indexof([-95,-75,-55,-35,-15,15,35,55,75,95], round(datum.value*100)) >= 0 ? replace(format(datum.value, '.2f'), '-', '\u2212') : ''","labelAngle":-45,"labelAlign":"right","labelBaseline":"middle","title":"CEU \u2013 YRI derived allele frequency","titleX":134,"titleY":46,"titleAngle":0,"titleAlign":"center","titleBaseline":"alphabetic"}},
   "y":{"field":"y","type":"quantitative","scale":{"domain":[-0.55,17.65],"nice":false,"zero":false},"axis":{"values":[0,5,10,15],"labelAngle":-90,"labelAlign":"center","labelBaseline":"bottom","title":"Enrichment","titleX":-31.5,"titleY":83,"titleAngle":-90,"titleAlign":"center","titleBaseline":"middle"}}},
 "layer":[
 {"data":{"name":"env"},"transform":[{"filter":"datum.p=='E'"},{"fold":["bu","bl"],"as":["e","y"]}],"mark":{"type":"line","clip":true,"color":"black","strokeWidth":1.1,"strokeDash":[6,4]},"encoding":{"detail":{"field":"e"}}},
 {"data":{"name":"env"},"transform":[{"filter":"datum.p=='E'"},{"fold":["gu","gl"],"as":["e","y"]}],"mark":{"type":"line","clip":true,"color":"#a3a3a3","strokeWidth":1.1,"strokeDash":[6,4]},"encoding":{"detail":{"field":"e"}}},
 {"data":{"values":[{}]},"mark":{"type":"rule","color":"#bdbdbd","strokeWidth":1.8},"encoding":{"x":{"datum":-1.026,"type":"quantitative"},"x2":{"datum":1.026},"y":{"datum":1,"type":"quantitative"}}},
 {"data":{"name":"pts"},"transform":[{"filter":"datum.p=='E'"}],"mark":{"type":"line","strokeWidth":1.1,"strokeDash":[1.5,2.5,4,2.5]},
  "encoding":{"color":{"field":"s","type":"nominal","scale":{"domain":["5'UTR (14,513 SNPs)"],"range":["blue"]},"legend":{"title":null,"orient":"none","legendX":74,"legendY":9.7,"encode":{"symbols":{"update":{"strokeDash":{"value":[1,0]}}}}}}}},
 {"data":{"name":"solid"},"transform":[{"filter":"datum.p=='E'"}],"mark":{"type":"line","strokeWidth":1.1},
  "encoding":{"detail":{"field":"g"},"color":{"field":"s","type":"nominal","scale":{"domain":["5'UTR (14,513 SNPs)"],"range":["blue"]},"legend":null}}},
 {"data":{"name":"pts"},"transform":[{"filter":"datum.p=='E'"}],"mark":{"type":"point","shape":"circle","filled":false,"size":24,"strokeWidth":1.2,"opacity":1},
  "encoding":{"color":{"field":"s","type":"nominal","scale":{"domain":["5'UTR (14,513 SNPs)"],"range":["blue"]},"legend":null}}},
 {"data":{"name":"lab"},"transform":[{"filter":"datum.p=='E'"}],"mark":{"type":"text","dx":2.5,"dy":-9,"fontSize":9.5},
  "encoding":{"text":{"field":"t"},"color":{"field":"s","type":"nominal","scale":{"domain":["5'UTR (14,513 SNPs)"],"range":["blue"]},"legend":null}}}
]},
{"width":268,"height":166,"title":{"text":"F"},
 "encoding":{"x":{"field":"x","type":"quantitative","scale":{"domain":[-1.026,1.026],"nice":false,"zero":false},"axis":{"values":[-0.95,-0.85,-0.75,-0.65,-0.55,-0.45,-0.35,-0.25,-0.15,-0.05,0.05,0.15,0.25,0.35,0.45,0.55,0.65,0.75,0.85,0.95],"labelExpr":"indexof([-95,-75,-55,-35,-15,15,35,55,75,95], round(datum.value*100)) >= 0 ? replace(format(datum.value, '.2f'), '-', '\u2212') : ''","labelAngle":-45,"labelAlign":"right","labelBaseline":"middle","title":"CEU \u2013 YRI derived allele frequency","titleX":134,"titleY":46,"titleAngle":0,"titleAlign":"center","titleBaseline":"alphabetic"}},
   "y":{"field":"y","type":"quantitative","scale":{"domain":[-0.35,10.42],"nice":false,"zero":false},"axis":{"values":[0,2,4,6,8,10],"labelAngle":-90,"labelAlign":"center","labelBaseline":"bottom","title":null}}},
 "layer":[
 {"data":{"name":"env"},"transform":[{"filter":"datum.p=='F'"},{"fold":["bu","bl"],"as":["e","y"]}],"mark":{"type":"line","clip":true,"color":"black","strokeWidth":1.1,"strokeDash":[6,4]},"encoding":{"detail":{"field":"e"}}},
 {"data":{"name":"env"},"transform":[{"filter":"datum.p=='F'"},{"fold":["gu","gl"],"as":["e","y"]}],"mark":{"type":"line","clip":true,"color":"#a3a3a3","strokeWidth":1.1,"strokeDash":[6,4]},"encoding":{"detail":{"field":"e"}}},
 {"data":{"values":[{}]},"mark":{"type":"rule","color":"#bdbdbd","strokeWidth":1.8},"encoding":{"x":{"datum":-1.026,"type":"quantitative"},"x2":{"datum":1.026},"y":{"datum":1,"type":"quantitative"}}},
 {"data":{"name":"pts"},"transform":[{"filter":"datum.p=='F'"}],"mark":{"type":"line","strokeWidth":1.1,"strokeDash":[1.5,2.5,4,2.5]},
  "encoding":{"color":{"field":"s","type":"nominal","scale":{"domain":["3'UTR (77,153 SNPs)"],"range":["blue"]},"legend":{"title":null,"orient":"none","legendX":74,"legendY":9.7,"encode":{"symbols":{"update":{"strokeDash":{"value":[1,0]}}}}}}}},
 {"data":{"name":"solid"},"transform":[{"filter":"datum.p=='F'"}],"mark":{"type":"line","strokeWidth":1.1},
  "encoding":{"detail":{"field":"g"},"color":{"field":"s","type":"nominal","scale":{"domain":["3'UTR (77,153 SNPs)"],"range":["blue"]},"legend":null}}},
 {"data":{"name":"pts"},"transform":[{"filter":"datum.p=='F'"}],"mark":{"type":"point","shape":"circle","filled":false,"size":24,"strokeWidth":1.2,"opacity":1},
  "encoding":{"color":{"field":"s","type":"nominal","scale":{"domain":["3'UTR (77,153 SNPs)"],"range":["blue"]},"legend":null}}},
 {"data":{"name":"lab"},"transform":[{"filter":"datum.p=='F'"}],"mark":{"type":"text","dx":2.5,"dy":-9,"fontSize":9.5},
  "encoding":{"text":{"field":"t"},"color":{"field":"s","type":"nominal","scale":{"domain":["3'UTR (77,153 SNPs)"],"range":["blue"]},"legend":null}}}
]}
]
}
